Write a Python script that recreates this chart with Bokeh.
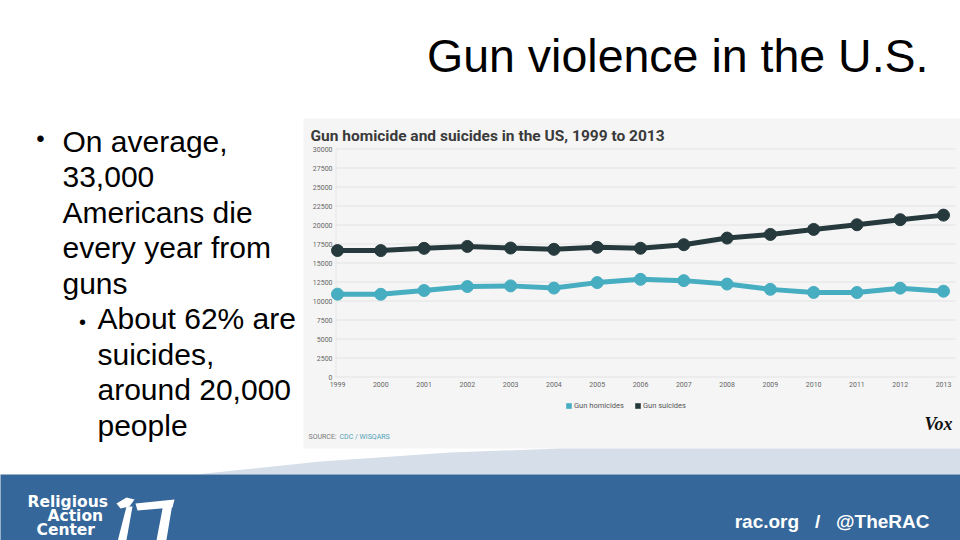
from bokeh.plotting import figure
from bokeh.models import (Range1d, Label, BoxAnnotation, PolyAnnotation, Legend, LegendItem)
from bokeh.core.properties import value
from bokeh.embed import file_html
from bokeh.resources import INLINE

# ---------------- data ----------------
years = [1999, 2000, 2001, 2002, 2003, 2004, 2005, 2006, 2007, 2008, 2009, 2010, 2011, 2012, 2013]
gun_homicides = [10900, 10880, 11380, 11900, 11990, 11700, 12420, 12850, 12680, 12230, 11530, 11130, 11120, 11690, 11290]
gun_suicides = [16640, 16630, 16930, 17180, 16970, 16800, 17060, 16940, 17410, 18280, 18760, 19420, 20030, 20700, 21300]
y_ticks = [0, 2500, 5000, 7500, 10000, 12500, 15000, 17500, 20000, 22500, 25000, 27500, 30000]
y_tick_labels = [str(v) for v in y_ticks]
x_tick_labels = [str(v) for v in years]
series_names = ["Gun homicides", "Gun suicides"]
chart_title = "Gun homicide and suicides in the US, 1999 to 2013"
slide_title = "Gun violence in the U.S."
bullets_level1 = ["On average,", "33,000", "Americans die", "every year from", "guns"]
bullets_level2 = ["About 62% are", "suicides,", "around 20,000", "people"]
source_label = "SOURCE:"
source_text = "CDC / WISQARS"
footer_text = "rac.org\u00a0\u00a0 /\u00a0\u00a0 @TheRAC"
logo_lines = ["Religious", "Action", "Center"]

# ---------------- layout (page pixels; the plot frame covers the whole page) ----------------
W, H = 960, 540
X_PX = (943 - 337) / 14          # px per year
Y_PX = 228 / 30000               # px per death
ZERO_Y = 376.5                   # page y of value 0
x0 = 1999 - 337 / X_PX
x1 = 1999 + (W - 337) / X_PX
y0 = -(H - ZERO_Y) / Y_PX
y1 = ZERO_Y / Y_PX


def dx(px):
    return x0 + px / X_PX


def dy(py):
    return y0 + (H - py) / Y_PX


def mid(baseline, size):
    # centre of the text box for a given alphabetic baseline
    return dy(baseline - 0.345 * size)


TEAL = "#47adc1"
DARK = "#263a3e"
BLUE = "#35679a"

p = figure(width=W, height=H, output_backend="svg", toolbar_location=None,
           x_range=Range1d(x0, x1), y_range=Range1d(y0, y1),
           x_axis_location=None, y_axis_location=None,
           min_border=0, min_border_left=0, min_border_right=0,
           min_border_top=0, min_border_bottom=0,
           background_fill_color="white", border_fill_color="white",
           outline_line_color=None)
p.grid.visible = False

# ---------------- background shapes ----------------
p.add_layout(BoxAnnotation(left=dx(303), right=dx(W + 5), top=dy(118), bottom=dy(448),
                           fill_color="#f5f5f5", fill_alpha=1, line_alpha=0, level="image"))
wx = [195, 320, 450, 560, W + 5, W + 5]
wy = [474, 461, 452, 448, 448, 474]
p.add_layout(PolyAnnotation(xs=[dx(v) for v in wx], ys=[dy(v) for v in wy],
                            fill_color="#d6deea", fill_alpha=1, line_alpha=0, level="image"))
p.add_layout(BoxAnnotation(left=dx(-5), right=dx(W + 5), top=dy(474), bottom=dy(H + 5),
                           fill_color=BLUE, fill_alpha=1, line_alpha=0, level="image"))

# ---------------- chart grid & tick labels ----------------
p.segment(x0=[dx(335)] * len(y_ticks), x1=[dx(955)] * len(y_ticks), y0=y_ticks, y1=y_ticks,
          line_color="#e3e3e3", line_width=1)
p.segment(x0=[dx(335.5)], x1=[dx(335.5)], y0=[0], y1=[y_ticks[-1]],
          line_color="#e6e6e6", line_width=1)
p.text(x=[dx(332)] * len(y_ticks), y=y_ticks, text=y_tick_labels,
       text_font=value("Roboto"), text_font_size="7px", text_color="#666666",
       text_align="right", text_baseline="middle")
p.text(x=years, y=[dy(384)] * len(years), text=x_tick_labels,
       text_font=value("Roboto"), text_font_size="7px", text_color="#666666",
       text_align="center", text_baseline="middle")

# ---------------- series ----------------
p.line(years, gun_suicides, line_width=5, color=DARK)
p.scatter(years, gun_suicides, size=12, color=DARK)
p.line(years, gun_homicides, line_width=5, color=TEAL)
p.scatter(years, gun_homicides, size=12, color=TEAL)

# legend with square swatches (zero-size quads only supply the legend icons)
leg_h = p.quad(left=years, right=years, top=gun_homicides, bottom=gun_homicides,
               fill_color=TEAL, line_alpha=0)
leg_s = p.quad(left=years, right=years, top=gun_suicides, bottom=gun_suicides,
               fill_color=DARK, line_alpha=0)
legend = Legend(items=[LegendItem(label=series_names[0], renderers=[leg_h]),
                       LegendItem(label=series_names[1], renderers=[leg_s])],
                location=(565, H - 410), orientation="horizontal",
                glyph_width=7, glyph_height=7, label_height=8,
                label_text_font="Roboto", label_text_font_size="7.5px",
                label_text_color="#555555", label_standoff=2, spacing=10,
                padding=0, margin=0, border_line_color=None, background_fill_alpha=0)
p.add_layout(legend)

# ---------------- texts ----------------
p.add_layout(Label(x=dx(310), y=mid(141, 15.5), text=chart_title, text_font="Roboto",
                   text_font_style="bold", text_font_size="15.5px", text_color="#3a3a3a",
                   text_baseline="middle"))
p.add_layout(Label(x=dx(308), y=dy(436), text=source_label, text_font="Roboto",
                   text_font_size="7px", text_color="#777777", text_baseline="middle"))
p.add_layout(Label(x=dx(339), y=dy(436), text=source_text, text_font="Roboto",
                   text_font_size="7px", text_color="#4f9fb5", text_baseline="middle"))
p.add_layout(Label(x=dx(952), y=mid(430, 18), text="Vox", text_font="Liberation Serif",
                   text_font_style="bold italic", text_font_size="18px", text_color="#111111",
                   text_align="right", text_baseline="middle"))

p.add_layout(Label(x=dx(928), y=mid(72, 46.5), text=slide_title, text_font="Liberation Sans",
                   text_font_size="46.5px", text_color="black", text_align="right",
                   text_baseline="middle"))

line_gap = 35.44
for i, t in enumerate(bullets_level1 + bullets_level2):
    lx = 62 if i < len(bullets_level1) else 97
    p.add_layout(Label(x=dx(lx), y=mid(151.5 + i * line_gap, 30), text=t,
                       text_font="Liberation Sans", text_font_size="30px", text_color="black",
                       text_baseline="middle"))
p.add_layout(Label(x=dx(40), y=dy(138), text="\u2022", text_font="Liberation Sans",
                   text_font_size="24px", text_color="black", text_align="center",
                   text_baseline="middle"))
p.add_layout(Label(x=dx(82), y=dy(321), text="\u2022", text_font="Liberation Sans",
                   text_font_size="20px", text_color="black", text_align="center",
                   text_baseline="middle"))

# footer
p.add_layout(Label(x=dx(929), y=mid(528, 19), text=footer_text, text_font="Liberation Sans",
                   text_font_style="bold", text_font_size="19px", text_color="white",
                   text_align="right", text_baseline="middle"))
for t, lx, by in zip(logo_lines, [27, 47, 36], [507, 521, 535]):
    p.add_layout(Label(x=dx(lx), y=mid(by, 15.5), text=t, text_font="DejaVu Sans",
                       text_font_style="bold", text_font_size="15.5px", text_color="white",
                       text_baseline="middle"))
logo_shapes = [
    ([116, 126, 134, 129, 120], [503, 497, 499, 506, 508]),
    ([126, 132, 125, 116], [506, 506, 545, 545]),
    ([135, 174, 172, 137], [503, 499, 507, 510]),
    ([163, 172, 165, 155], [503, 503, 545, 545]),
]
for sx, sy in logo_shapes:
    p.add_layout(PolyAnnotation(xs=[dx(v) for v in sx], ys=[dy(v) for v in sy],
                                fill_color="white", fill_alpha=1, line_alpha=0))

open("out.html", "w").write(file_html(p, INLINE))
